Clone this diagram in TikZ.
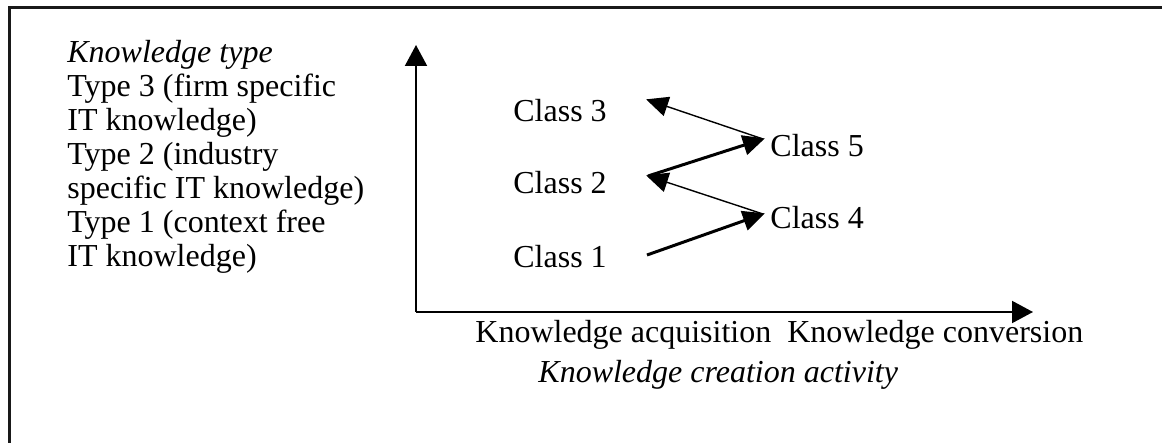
\documentclass[tikz,border=0pt]{standalone}
\usepackage{fontspec}
\setmainfont{Liberation Serif}
\usetikzlibrary{arrows.meta}
\begin{document}
\begin{tikzpicture}[x=0.5pt,y=-0.5pt,
  txt/.style={anchor=base west,inner sep=0pt,font=\fontsize{16}{17}\selectfont},
  frameline/.style={line width=1.5pt,draw=black!90},
  axis/.style={line width=1pt,-{Triangle[length=10.5pt,width=11pt]}},
  fwd/.style={line width=1.5pt,-{Triangle[length=11pt,width=10pt]},shorten >=-1pt},
  back/.style={line width=0.7pt,-{Triangle[length=11pt,width=10pt]},shorten >=-1pt}]
\useasboundingbox (0,0) rectangle (1162,443);
% open frame: top and left edges
\draw[frameline] (9,443) -- (9,8) -- (1162,8);

% legend of knowledge types
\foreach \t [count=\i from 0] in {{\textit{Knowledge type}},
    {Type 3 (firm specific},{IT knowledge)},{Type 2 (industry},
    {specific IT knowledge)},{Type 1 (context free},{IT knowledge)}}
  \node[txt] (kt\i) at (67,{63+34*\i}) {\t};

% axes
\coordinate (o) at (416,312);
\coordinate (ytop) at (416,45);
\coordinate (xend) at (1033,312);
\draw[axis] (o) -- (ytop);
\draw[axis] (o) -- (xend);

% classes
\node[txt] (c3) at (513,122) {Class 3};
\node[txt] (c2) at (513,194) {Class 2};
\node[txt] (c1) at (513,268) {Class 1};
\node[txt] (c5) at (770,157) {Class 5};
\node[txt] (c4) at (770,229) {Class 4};

% zigzag path between classes
\coordinate (z1) at (647,255);
\coordinate (z4) at (763,214);
\coordinate (z2) at (648,176);
\coordinate (z5) at (763,139);
\coordinate (z3) at (648,100);
\draw[fwd] (z1) -- (z4);
\draw[back] (z4) -- (z2);
\draw[fwd] (z2) -- (z5);
\draw[back] (z5) -- (z3);

% axis labels
\node[txt] (acts) at (475,343) {Knowledge acquisition\ \ Knowledge conversion};
\node[txt] (xlab) at (538,382) {\textit{Knowledge creation activity}};
\end{tikzpicture}
\end{document}
